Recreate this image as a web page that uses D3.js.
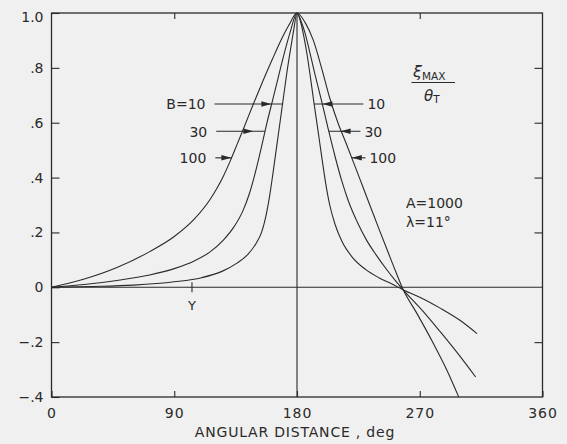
<!DOCTYPE html>
<html>
<head>
<meta charset="utf-8">
<script src="https://cdn.jsdelivr.net/npm/d3@7/dist/d3.min.js"></script>
<style>
    html, body { margin: 0; padding: 0; background: #f0f0f0; }
    svg { display: block; }
    text { font-family: "DejaVu Sans", sans-serif; fill: #2a2a2a; }
</style>
</head>
<body>
<div id="chart"></div>
<script>
// Curves: [angular distance (deg), xi_max / theta_T]
const curveB10 = [
    [0, 0], [30, 0.003], [60, 0.008], [90, 0.02], [110, 0.035], [125, 0.058], [136, 0.088],
    [144, 0.12], [150, 0.16], [154, 0.2], [157, 0.255], [160, 0.335], [162.5, 0.42],
    [165, 0.51], [167.5, 0.6], [170, 0.69], [172.5, 0.78], [175, 0.86], [177.5, 0.935], [180, 1.0],
    [182.5, 0.97], [185, 0.915], [187.5, 0.845], [190, 0.76], [192.5, 0.67], [195, 0.585],
    [198, 0.48], [201, 0.38], [204, 0.3], [208, 0.228], [213, 0.167], [220, 0.113],
    [230, 0.066], [240, 0.035], [250, 0.011], [258, -0.01], [270, -0.036], [285, -0.076],
    [300, -0.122], [312, -0.169]
];
const curveB30 = [
    [0, 0], [24, 0.01], [48, 0.025], [72, 0.045], [90, 0.068], [105, 0.097], [116, 0.128],
    [126, 0.172], [134, 0.222], [140, 0.275], [145, 0.34], [149, 0.41], [152, 0.47],
    [155, 0.535], [158, 0.6], [162, 0.68], [166, 0.76], [170, 0.84], [175, 0.93], [180, 1.0],
    [183, 0.97], [186, 0.925], [189, 0.865], [193, 0.78], [198, 0.68], [203, 0.575], [208, 0.475],
    [213, 0.385], [218, 0.31], [224, 0.24], [231, 0.172], [238, 0.118], [246, 0.063],
    [252, 0.025], [258, -0.01], [272, -0.085], [285, -0.162], [298, -0.242], [311, -0.327]
];
const curveB100 = [
    [0, 0], [24, 0.03], [48, 0.072], [72, 0.13], [90, 0.185], [105, 0.25], [116, 0.318],
    [121, 0.358], [126, 0.405], [131, 0.46], [136, 0.52], [141, 0.581], [148, 0.668],
    [155, 0.752], [162, 0.832], [168, 0.898], [174, 0.955], [180, 1.0],
    [186, 0.965], [192, 0.9], [198, 0.8], [204, 0.69], [210, 0.6], [216, 0.525], [222, 0.448],
    [228, 0.37], [234, 0.292], [240, 0.214], [246, 0.138], [252, 0.062], [258, -0.01],
    [268, -0.096], [280, -0.205], [290, -0.303], [298.6, -0.4]
];

// Ticks
const xTicks = [0, 90, 180, 270, 360];
const yTicks = [1.0, 0.8, 0.6, 0.4, 0.2, 0, -0.2, -0.4];
const yTickLabels = ['1.0', '.8', '.6', '.4', '.2', '0', '\u2212.2', '\u2212.4'];
const sideTicks = [0.8, 0.6, 0.4, 0.2, -0.2];
const topTicks = [90, 270];

// Arrow annotations (value level, deg where the line starts/ends, deg of the arrow tip)
const leftLabels = ['B=10', '30', '100'];
const rightLabels = ['10', '30', '100'];
const arrowLevels = [0.668, 0.569, 0.472];
const leftFrom = [119.5, 120.8, 120.1];
const leftTo = [169.4, 156.6, 131.9];
const leftTip = [161.2, 148, 131.9];
const rightFrom = [228.7, 226.5, 230.2];
const rightTo = [192.5, 203.2, 220.2];
const rightTip = [198.6, 212, 220.2];
const markY = 103;

const width = 567;
const height = 444;
const margin = { top: 13, right: 24.5, bottom: 47, left: 51.5 };
const ink = '#2a2a2a';

const svg = d3.select('#chart')
    .append('svg')
    .attr('width', width)
    .attr('height', height);

const x = d3.scaleLinear().domain([0, 360]).range([margin.left, width - margin.right]);
const y = d3.scaleLinear().domain([-0.4, 1.0]).range([height - margin.bottom, margin.top]);

// Frame
svg.append('rect')
    .attr('x', x(0)).attr('y', y(1))
    .attr('width', x(360) - x(0)).attr('height', y(-0.4) - y(1))
    .attr('fill', 'none').attr('stroke', ink).attr('stroke-width', 1.3);

// Axes (ticks pointing inward)
const yLeft = d3.axisLeft(y).tickValues(yTicks)
    .tickFormat((d, i) => yTickLabels[i])
    .tickSizeInner(-8).tickSizeOuter(0).tickPadding(8);
const gLeft = svg.append('g').attr('transform', `translate(${x(0)},0)`).call(yLeft);

const xBottom = d3.axisBottom(x).tickValues(xTicks)
    .tickSizeInner(-6).tickSizeOuter(0).tickPadding(11);
const gBottom = svg.append('g').attr('transform', `translate(0,${y(-0.4)})`).call(xBottom);

const gRight = svg.append('g').attr('transform', `translate(${x(360)},0)`)
    .call(d3.axisRight(y).tickValues(sideTicks).tickFormat('').tickSizeInner(-8).tickSizeOuter(0));
const gTop = svg.append('g').attr('transform', `translate(0,${y(1)})`)
    .call(d3.axisTop(x).tickValues(topTicks).tickFormat('').tickSizeInner(-6).tickSizeOuter(0));

[gLeft, gBottom, gRight, gTop].forEach(g => {
    g.select('.domain').remove();
    g.selectAll('line').attr('stroke', ink).attr('stroke-width', 1.1);
    g.selectAll('text').attr('font-size', 14).attr('fill', ink)
        .style('font-family', '"DejaVu Sans", sans-serif');
});
gBottom.selectAll('text').attr('letter-spacing', 1);
gLeft.selectAll('.tick').filter(d => d === 1.0).select('text').attr('dy', '0.6em');

// Zero line and 180 deg line
svg.append('line')
    .attr('x1', x(0)).attr('x2', x(360)).attr('y1', y(0)).attr('y2', y(0))
    .attr('stroke', ink).attr('stroke-width', 1.1);
svg.append('line')
    .attr('x1', x(180)).attr('x2', x(180)).attr('y1', y(1)).attr('y2', y(-0.4))
    .attr('stroke', ink).attr('stroke-width', 1.1);

// Y marker
svg.append('line')
    .attr('x1', x(markY)).attr('x2', x(markY)).attr('y1', y(0) - 5).attr('y2', y(0) + 5)
    .attr('stroke', ink).attr('stroke-width', 1.1);
svg.append('text')
    .attr('x', x(markY)).attr('y', y(0) + 23)
    .attr('text-anchor', 'middle').attr('font-size', 13)
    .text('Y');

// Curves
const line = d3.line()
    .x(d => x(d[0]))
    .y(d => y(d[1]))
    .curve(d3.curveMonotoneX);

svg.selectAll('path.curve')
    .data([curveB10, curveB30, curveB100])
    .enter()
    .append('path')
    .attr('class', 'curve')
    .attr('d', line)
    .attr('fill', 'none')
    .attr('stroke', ink)
    .attr('stroke-width', 1.1);

// Arrow helper: line from -> to, filled head with its point at tip
function drawArrow(from, to, tip, level) {
    const yy = y(level);
    svg.append('line')
        .attr('x1', x(from)).attr('x2', x(to)).attr('y1', yy).attr('y2', yy)
        .attr('stroke', ink).attr('stroke-width', 1.1);
    const dir = to > from ? 1 : -1;
    const tx = x(tip);
    const len = 10;
    svg.append('path')
        .attr('d', `M${tx},${yy} L${tx - dir * len},${yy - 2.8} L${tx - dir * len},${yy + 2.8} Z`)
        .attr('fill', ink);
}

leftLabels.forEach((label, i) => {
    drawArrow(leftFrom[i], leftTo[i], leftTip[i], arrowLevels[i]);
    svg.append('text')
        .attr('x', x(leftFrom[i]) - 9).attr('y', y(arrowLevels[i]))
        .attr('dy', '0.38em').attr('text-anchor', 'end').attr('font-size', 14)
        .text(label);
});
rightLabels.forEach((label, i) => {
    drawArrow(rightFrom[i], rightTo[i], rightTip[i], arrowLevels[i]);
    svg.append('text')
        .attr('x', x(rightFrom[i]) + 4).attr('y', y(arrowLevels[i]))
        .attr('dy', '0.38em').attr('text-anchor', 'start').attr('font-size', 14)
        .text(label);
});

// Ordinate label as a fraction
const frac = svg.append('g');
frac.append('text').attr('x', 413).attr('y', 77).attr('font-size', 16)
    .attr('font-style', 'italic')
    .text('\u03BE')
    .append('tspan').attr('font-size', 10.5).attr('font-style', 'normal').attr('dy', 3)
    .text('MAX');
frac.append('line')
    .attr('x1', 411.5).attr('x2', 455).attr('y1', 82.5).attr('y2', 82.5)
    .attr('stroke', ink).attr('stroke-width', 1.1);
frac.append('text').attr('x', 424).attr('y', 101).attr('font-size', 15)
    .attr('font-style', 'italic')
    .text('\u03B8')
    .append('tspan').attr('font-size', 10.5).attr('font-style', 'normal').attr('dy', 2)
    .text('T');

// Parameters
svg.append('text').attr('x', 406).attr('y', 208).attr('font-size', 14).text('A=1000');
svg.append('text').attr('x', 406).attr('y', 227).attr('font-size', 14).text('\u03BB=11\u00B0');

// Axis title
svg.append('text')
    .attr('x', x(180) - 2).attr('y', 437)
    .attr('text-anchor', 'middle').attr('font-size', 14).attr('letter-spacing', 0.8)
    .text('ANGULAR DISTANCE , deg');
</script>
</body>
</html>
